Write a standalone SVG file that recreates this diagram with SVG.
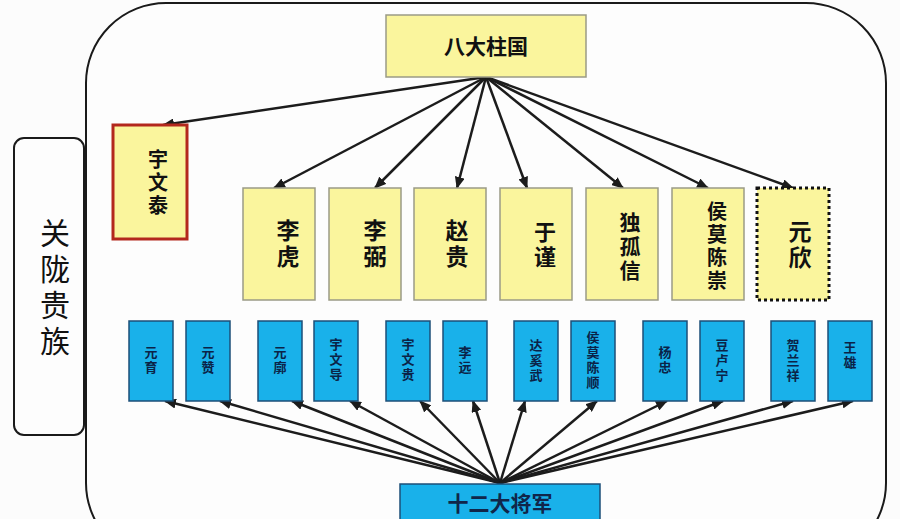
<svg xmlns="http://www.w3.org/2000/svg" width="900" height="519" viewBox="0 0 900 519">
<style>
.y{fill:#faf59d;stroke:#9a9a86;stroke-width:1.5}
.b{fill:#19b1ea;stroke:#1d4f78;stroke-width:1.5}
.t{font-family:"Liberation Sans","Noto Sans CJK SC","Noto Sans CJK TC",sans-serif;fill:#111;text-anchor:middle;font-weight:bold}
.tb{font-family:"Liberation Sans","Noto Sans CJK SC",sans-serif;fill:#0b2347;text-anchor:middle;font-weight:bold;font-size:13px}
.c line{stroke:#1c1c1c;stroke-width:2.5;marker-end:url(#ah)}
</style>
<defs>
<marker id="ah" markerUnits="userSpaceOnUse" markerWidth="12" markerHeight="10" refX="11" refY="5" orient="auto">
<path d="M0,0 L12,5 L0,10 z" fill="#1c1c1c"/>
</marker>
</defs>
<rect width="900" height="519" fill="#fcfcfc"/>
<g id="frame"><rect x="86" y="3" width="800" height="560" rx="80" ry="80" fill="#fdfdfd" stroke="#1a1a1a" stroke-width="2"/></g>
<g id="guanlong"><rect x="14" y="138" width="70" height="297" rx="10" fill="#fdfdfd" stroke="#1a1a1a" stroke-width="2"/>
<text class="t" style="font-weight:normal" font-size="30" x="55"><tspan x="55" y="244">关</tspan><tspan x="55" y="280">陇</tspan><tspan x="55" y="316">贵</tspan><tspan x="55" y="352">族</tspan></text></g>

<g class="c" id="connectors">
<line x1="486" y1="77" x2="163" y2="125"/>
<line x1="486" y1="77" x2="274" y2="188"/>
<line x1="486" y1="77" x2="375" y2="188"/>
<line x1="486" y1="77" x2="457" y2="188"/>
<line x1="486" y1="77" x2="527" y2="188"/>
<line x1="486" y1="77" x2="623" y2="188"/>
<line x1="486" y1="77" x2="708" y2="188"/>
<line x1="486" y1="77" x2="793" y2="188"/>
<line x1="500" y1="483" x2="165" y2="401"/>
<line x1="500" y1="483" x2="220" y2="401"/>
<line x1="500" y1="483" x2="292" y2="401"/>
<line x1="500" y1="483" x2="350" y2="401"/>
<line x1="500" y1="483" x2="420" y2="401"/>
<line x1="500" y1="483" x2="473" y2="401"/>
<line x1="500" y1="483" x2="525" y2="401"/>
<line x1="500" y1="483" x2="597" y2="401"/>
<line x1="500" y1="483" x2="667" y2="401"/>
<line x1="500" y1="483" x2="723" y2="401"/>
<line x1="500" y1="483" x2="793" y2="401"/>
<line x1="500" y1="483" x2="853" y2="401"/>
</g>

<g id="bazhuguo"><rect class="y" x="386" y="15" width="200" height="62"/>
<text class="t" font-size="21" x="486" y="54">八大柱国</text></g>

<g id="yuwentai"><rect x="113" y="125" width="74" height="114" fill="#faf59d" stroke="#b3281d" stroke-width="3"/>
<text class="t" font-size="20"><tspan x="158" y="167">宇</tspan><tspan x="158" y="190">文</tspan><tspan x="158" y="213">泰</tspan></text></g>

<g id="lihu"><rect class="y" x="243" y="188" width="72" height="112"/>
<text class="t" font-size="23"><tspan x="288" y="239">李</tspan><tspan x="288" y="265">虎</tspan></text></g>
<g id="libi"><rect class="y" x="329" y="188" width="72" height="112"/>
<text class="t" font-size="23"><tspan x="375" y="239">李</tspan><tspan x="375" y="265">弼</tspan></text></g>
<g id="zhaogui"><rect class="y" x="414" y="188" width="72" height="112"/>
<text class="t" font-size="23"><tspan x="457" y="239">赵</tspan><tspan x="457" y="265">贵</tspan></text></g>
<g id="yujin"><rect class="y" x="500" y="188" width="72" height="112"/>
<text class="t" font-size="22"><tspan x="545" y="240">于</tspan><tspan x="545" y="265">谨</tspan></text></g>
<g id="duguxin"><rect class="y" x="586" y="188" width="72" height="112"/>
<text class="t" font-size="21"><tspan x="630" y="230">独</tspan><tspan x="630" y="254">孤</tspan><tspan x="630" y="278">信</tspan></text></g>
<g id="houmochenchong"><rect class="y" x="672" y="188" width="72" height="112"/>
<text class="t" font-size="20"><tspan x="717" y="219">侯</tspan><tspan x="717" y="242">莫</tspan><tspan x="717" y="265">陈</tspan><tspan x="717" y="288">崇</tspan></text></g>
<g id="yuanxin"><rect x="757" y="188" width="72" height="112" fill="#faf59d" stroke="#111" stroke-width="3" stroke-dasharray="3 3"/>
<text class="t" font-size="23"><tspan x="800" y="240">元</tspan><tspan x="800" y="266">欣</tspan></text></g>

<g id="yuanyu"><rect class="b" x="129" y="321" width="44" height="80"/>
<text class="tb"><tspan x="151" y="357">元</tspan><tspan x="151" y="372">育</tspan></text></g>
<g id="yuanzan"><rect class="b" x="186" y="321" width="44" height="80"/>
<text class="tb"><tspan x="208" y="357">元</tspan><tspan x="208" y="372">赞</tspan></text></g>
<g id="yuankuo"><rect class="b" x="258" y="321" width="44" height="80"/>
<text class="tb"><tspan x="280" y="357">元</tspan><tspan x="280" y="372">廓</tspan></text></g>
<g id="yuwendao"><rect class="b" x="314" y="321" width="44" height="80"/>
<text class="tb"><tspan x="336" y="349">宇</tspan><tspan x="336" y="364">文</tspan><tspan x="336" y="379">导</tspan></text></g>
<g id="yuwengui"><rect class="b" x="386" y="321" width="44" height="80"/>
<text class="tb"><tspan x="408" y="349">宇</tspan><tspan x="408" y="364">文</tspan><tspan x="408" y="379">贵</tspan></text></g>
<g id="liyuan"><rect class="b" x="443" y="321" width="44" height="80"/>
<text class="tb"><tspan x="465" y="357">李</tspan><tspan x="465" y="372">远</tspan></text></g>
<g id="daxiwu"><rect class="b" x="514" y="321" width="44" height="80"/>
<text class="tb"><tspan x="536" y="350">达</tspan><tspan x="536" y="365">奚</tspan><tspan x="536" y="380">武</tspan></text></g>
<g id="houmochenshun"><rect class="b" x="571" y="321" width="44" height="80"/>
<text class="tb"><tspan x="593" y="342">侯</tspan><tspan x="593" y="357">莫</tspan><tspan x="593" y="372">陈</tspan><tspan x="593" y="387">顺</tspan></text></g>
<g id="yangzhong"><rect class="b" x="643" y="321" width="44" height="80"/>
<text class="tb"><tspan x="665" y="357">杨</tspan><tspan x="665" y="372">忠</tspan></text></g>
<g id="doulianing"><rect class="b" x="700" y="321" width="44" height="80"/>
<text class="tb"><tspan x="722" y="350">豆</tspan><tspan x="722" y="365">卢</tspan><tspan x="722" y="380">宁</tspan></text></g>
<g id="helanxiang"><rect class="b" x="771" y="321" width="44" height="80"/>
<text class="tb"><tspan x="793" y="350">贺</tspan><tspan x="793" y="365">兰</tspan><tspan x="793" y="380">祥</tspan></text></g>
<g id="wangxiong"><rect class="b" x="828" y="321" width="44" height="80"/>
<text class="tb"><tspan x="850" y="352">王</tspan><tspan x="850" y="367">雄</tspan></text></g>

<g id="shierdajiangjun"><rect class="b" x="400" y="484" width="200" height="50"/>
<text class="t" font-size="21" x="500" y="511" style="fill:#10264a">十二大将军</text></g>
</svg>
